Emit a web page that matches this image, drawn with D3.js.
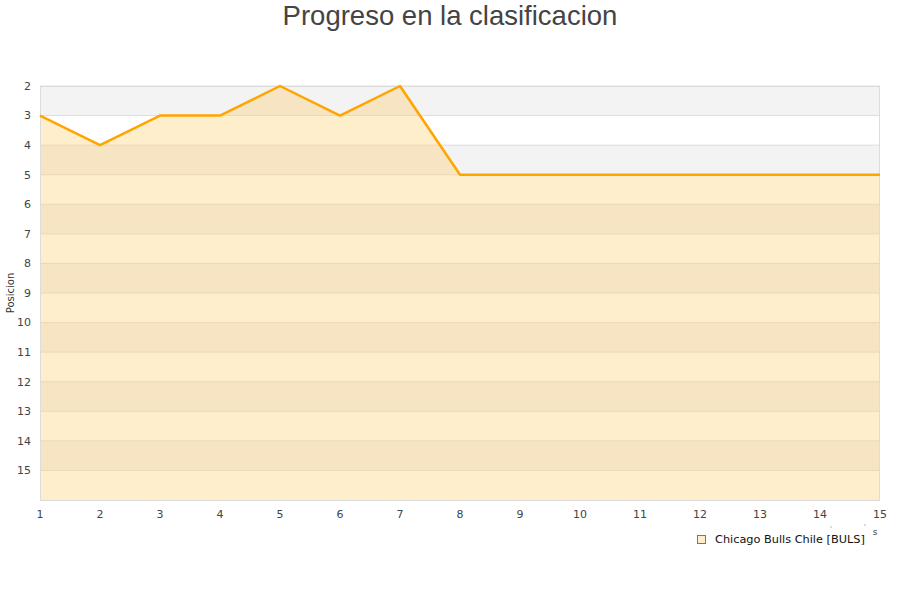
<!DOCTYPE html>
<html><head><meta charset="utf-8">
<script src="https://cdn.jsdelivr.net/npm/d3@7"></script>
<style>body{margin:0;background:#fff}</style>
</head><body>
<svg id="c" width="900" height="600"></svg>
<script>
const rounds = [1,2,3,4,5,6,7,8,9,10,11,12,13,14,15];
const positions = [3,4,3,3,2,3,2,5,5,5,5,5,5,5,5];
const yTicks = [2,3,4,5,6,7,8,9,10,11,12,13,14,15];
const title = "Progreso en la clasificacion";
const yTitle = "Posicion";
const seriesName = "Chicago Bulls Chile [BULS]";

const svg = d3.select("#c");
const L=40,R=880,T=86,B=500;
const x = d3.scaleLinear().domain([1,15]).range([L,R]);
const y = d3.scaleLinear().domain([2,16]).range([T,B]);

const bands = d3.range(2,16);
svg.append("g").selectAll("rect").data(bands).join("rect")
  .attr("x",L).attr("width",R-L)
  .attr("y",d=>y(d)).attr("height",d=>y(d+1)-y(d))
  .attr("fill",d=>d%2===0?"#f3f3f3":"#ffffff");
svg.append("g").selectAll("line").data(yTicks).join("line")
  .attr("x1",L).attr("x2",R).attr("y1",d=>y(d)).attr("y2",d=>y(d))
  .attr("stroke","#dddddd").attr("stroke-width",1);

const area = d3.area().x((d,i)=>x(rounds[i])).y0(y(16)).y1(d=>y(d));
svg.append("clipPath").attr("id","ac").append("path").attr("d",area(positions));
const inner = svg.append("g").attr("clip-path","url(#ac)");
inner.selectAll("rect").data(bands).join("rect")
  .attr("x",L).attr("width",R-L)
  .attr("y",d=>y(d)).attr("height",d=>y(d+1)-y(d))
  .attr("fill",d=>d%2===0?"#f6e4c3":"#ffeecc");
inner.selectAll("line").data(yTicks).join("line")
  .attr("x1",L).attr("x2",R).attr("y1",d=>y(d)).attr("y2",d=>y(d))
  .attr("stroke","#eed8b3").attr("stroke-width",1);

svg.append("rect").attr("x",L+0.5).attr("y",T+0.5).attr("width",R-L-1).attr("height",B-T)
  .attr("fill","none").attr("stroke","#dcdcdc");

const line = d3.line().x((d,i)=>x(rounds[i])).y(d=>y(d));
svg.append("path").attr("d",line(positions)).attr("fill","none")
  .attr("stroke","#ffa500").attr("stroke-width",2.5).attr("stroke-linejoin","round");

svg.append("g").selectAll("text").data(yTicks).join("text")
  .attr("x",31).attr("y",d=>y(d)).attr("dy","0.35em").attr("text-anchor","end")
  .attr("font-family","DejaVu Sans").attr("font-size",11).attr("fill","#444")
  .text(d=>d);
svg.append("g").selectAll("text").data(rounds).join("text")
  .attr("x",d=>x(d)).attr("y",518).attr("text-anchor","middle")
  .attr("font-family","DejaVu Sans").attr("font-size",11).attr("fill","#444")
  .text(d=>d);

svg.append("text").attr("x",450).attr("y",25).attr("text-anchor","middle")
  .attr("font-family","Liberation Sans, Arial").attr("font-size",27.5).attr("fill","#444")
  .text(title);
svg.append("text").attr("transform","translate(14,293) rotate(-90)").attr("text-anchor","middle")
  .attr("font-family","DejaVu Sans").attr("font-size",10).attr("fill","#333")
  .text(yTitle);
svg.append("text").attr("x",875).attr("y",535).attr("text-anchor","middle")
  .attr("font-family","DejaVu Sans").attr("font-size",9).attr("fill","#444").text("s");
svg.append("g").selectAll("circle").data([[831,527],[865,525]]).join("circle")
  .attr("cx",d=>d[0]).attr("cy",d=>d[1]).attr("r",0.6).attr("fill","#666");

svg.append("rect").attr("x",697.5).attr("y",535.5).attr("width",8).attr("height",8)
  .attr("fill","#ffeecc").attr("stroke","#777").attr("stroke-width",1);
svg.append("text").attr("x",715).attr("y",543).attr("font-family","DejaVu Sans")
  .attr("font-size",11.3).attr("fill","#111").text(seriesName);
</script>
</body></html>
